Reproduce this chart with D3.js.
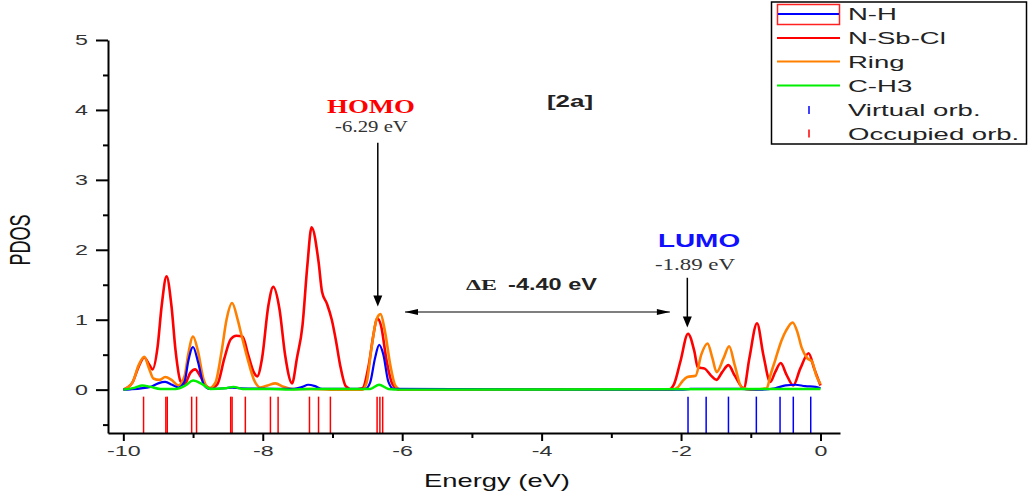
<!DOCTYPE html>
<html><head><meta charset="utf-8">
<script src="https://cdn.jsdelivr.net/npm/d3@7"></script>
<style>body{margin:0;background:#fff;} svg{display:block;}</style>
</head><body>
<svg id="chart" width="1030" height="499"></svg>
<script>
// ---------- data (energy in eV, PDOS) ----------
const seriesNames = ["N-H", "N-Sb-Cl", "Ring", "C-H3"];
const stickNames = ["Virtual orb.", "Occupied orb."];

const nSbClPoints = [
[-10.0,0],[-9.87,0.1],[-9.78,0.33],[-9.70,0.46],[-9.63,0.36],[-9.58,0.29],[-9.51,0.6],[-9.45,1.2],[-9.38,1.62],[-9.31,1.2],[-9.25,0.55],[-9.18,0.12],[-9.12,0.08],[-9.04,0.24],[-8.97,0.29],[-8.90,0.2],[-8.82,0.06],[-8.75,0.02],[-8.65,0.08],[-8.55,0.45],[-8.46,0.72],[-8.38,0.77],[-8.29,0.76],[-8.21,0.5],[-8.13,0.25],[-8.08,0.19],[-8.01,0.45],[-7.92,1.2],[-7.85,1.47],[-7.76,1.15],[-7.68,0.5],[-7.58,0.09],[-7.51,0.45],[-7.43,0.92],[-7.36,1.78],[-7.30,2.32],[-7.20,1.83],[-7.15,1.4],[-7.08,1.23],[-7.01,1.0],[-6.95,0.7],[-6.89,0.35],[-6.81,0.05],[-6.71,0],[-6.57,0.02],[-6.48,0.35],[-6.41,0.8],[-6.36,1.02],[-6.30,0.9],[-6.23,0.45],[-6.14,0.08],[-6.05,0],[-2.18,0],[-2.10,0.08],[-2.01,0.4],[-1.90,0.8],[-1.81,0.55],[-1.76,0.32],[-1.66,0.30],[-1.57,0.2],[-1.49,0.14],[-1.41,0.25],[-1.32,0.35],[-1.23,0.2],[-1.10,0.02],[-1.02,0.45],[-0.91,0.95],[-0.82,0.5],[-0.72,0.11],[-0.65,0.25],[-0.57,0.38],[-0.49,0.22],[-0.39,0.06],[-0.29,0.3],[-0.17,0.52],[-0.09,0.3],[0,0.06]
];
const ringPoints = [
[-10.0,0],[-9.87,0.1],[-9.78,0.35],[-9.70,0.47],[-9.63,0.3],[-9.57,0.16],[-9.48,0.14],[-9.40,0.18],[-9.31,0.14],[-9.21,0.06],[-9.12,0.2],[-9.07,0.5],[-9.00,0.76],[-8.93,0.55],[-8.85,0.15],[-8.77,0.02],[-8.68,0.1],[-8.59,0.55],[-8.52,1.0],[-8.44,1.24],[-8.36,1.0],[-8.31,0.8],[-8.22,0.45],[-8.13,0.15],[-8.03,0.03],[-7.93,0.06],[-7.82,0.09],[-7.70,0.04],[-7.58,0.01],[-7.32,0.01],[-7.03,0],[-6.57,0],[-6.51,0.1],[-6.44,0.6],[-6.37,1.0],[-6.31,1.08],[-6.25,0.85],[-6.17,0.35],[-6.10,0.06],[-6.03,0],[-2.12,0],[-2.05,0.03],[-1.98,0.12],[-1.91,0.18],[-1.79,0.2],[-1.71,0.5],[-1.62,0.66],[-1.55,0.45],[-1.49,0.25],[-1.39,0.45],[-1.31,0.62],[-1.23,0.35],[-1.13,0.03],[-1.00,0],[-0.77,0.02],[-0.72,0.2],[-0.65,0.42],[-0.56,0.7],[-0.49,0.85],[-0.40,0.96],[-0.33,0.82],[-0.27,0.6],[-0.19,0.45],[-0.12,0.4],[-0.06,0.2],[0,0.08]
];
const nhPoints = [
[-10.0,0],[-9.9,0.005],[-9.61,0.04],[-9.50,0.09],[-9.40,0.11],[-9.30,0.07],[-9.21,0.03],[-9.12,0.12],[-9.07,0.4],[-9.00,0.61],[-8.93,0.4],[-8.85,0.08],[-8.77,0.01],[-8.54,0.02],[-8.44,0.03],[-8.32,0.02],[-7.55,0.01],[-7.43,0.04],[-7.35,0.07],[-7.25,0.05],[-7.15,0.01],[-6.53,0.01],[-6.46,0.1],[-6.39,0.45],[-6.33,0.64],[-6.27,0.5],[-6.20,0.12],[-6.12,0.01],[-2.0,0],[-1.86,0.01],[-1.14,0.01],[-0.86,0],[-0.65,0.02],[-0.50,0.06],[-0.36,0.07],[-0.22,0.05],[-0.07,0.04],[0,0.02]
];
const ch3Points = [
[-10.0,0],[-9.83,0.03],[-9.73,0.06],[-9.61,0.04],[-9.47,0.01],[-9.25,0.01],[-9.11,0.06],[-9.00,0.13],[-8.87,0.08],[-8.75,0.01],[-8.54,0.02],[-8.42,0.04],[-8.29,0.01],[-7.9,0.01],[-7.61,0],[-7.32,0.01],[-6.46,0.01],[-6.33,0.07],[-6.20,0.01],[-6.03,0],[0,0.01]
];
const occupiedOrbitals = [-9.71,-9.39,-9.37,-9.02,-8.95,-8.46,-8.44,-8.25,-7.89,-7.78,-7.33,-7.20,-7.03,-6.36,-6.32,-6.28];
const virtualOrbitals = [-1.90,-1.64,-1.32,-0.92,-0.58,-0.39,-0.14];

const xTicksMajor = [-10,-8,-6,-4,-2,0];
const xTicksMinor = [-9,-7,-5,-3,-1];
const yTicksMajor = [0,1,2,3,4,5];
const yTicksMinor = [-0.5,0.5,1.5,2.5,3.5,4.5];

const homoLabel = "HOMO", homoValueLabel = "-6.29 eV";
const lumoLabel = "LUMO", lumoValueLabel = "-1.89 eV";
const gapLabel = "-4.40 eV";
const panelLabel = "[2a]";

// ---------- drawing ----------
const svg = d3.select("#chart");
const x = d3.scaleLinear().domain([-10.22, 0.28]).range([108, 840]);
const y = d3.scaleLinear().domain([-0.62, 5]).range([433, 40]);
const SANS = "Liberation Sans, Arial, sans-serif";
const SERIF = "Liberation Serif, Times New Roman, serif";

function stretch(sel, sx) {
  sel.each(function () {
    const t = d3.select(this);
    const tx = +t.attr("x") || 0, ty = +t.attr("y") || 0;
    t.attr("x", 0).attr("y", 0).attr("transform", `translate(${tx},${ty}) scale(${sx},1)`);
  });
}
function addText(txt, px, py, opts) {
  const t = svg.append("text").text(txt)
    .attr("x", px).attr("y", py)
    .attr("font-family", opts.family || SANS)
    .attr("font-size", opts.size)
    .attr("font-weight", opts.weight || "normal")
    .attr("fill", opts.fill || "#222")
    .attr("text-anchor", opts.anchor || "start");
  stretch(t, opts.sx || 1);
  return t;
}

// sticks
const stickTop = -0.1, stickBottom = -0.62;
svg.append("g").selectAll("line").data(occupiedOrbitals).join("line")
  .attr("x1", d => x(d)).attr("x2", d => x(d))
  .attr("y1", y(stickTop)).attr("y2", y(stickBottom))
  .attr("stroke", "#ff0000").attr("stroke-width", 1.5);
svg.append("g").selectAll("line").data(virtualOrbitals).join("line")
  .attr("x1", d => x(d)).attr("x2", d => x(d))
  .attr("y1", y(stickTop)).attr("y2", y(stickBottom))
  .attr("stroke", "#0000ff").attr("stroke-width", 1.5);

// curves
const line = d3.line().x(d => x(d[0])).y(d => y(d[1])).curve(d3.curveMonotoneX);
const curves = [
  {pts: nSbClPoints, color: "#ff0000", w: 2.6},
  {pts: ringPoints, color: "#ff8000", w: 2.6},
  {pts: nhPoints, color: "#0000ff", w: 2.2},
  {pts: ch3Points, color: "#00ee00", w: 2.4}
];
curves.forEach(c => {
  svg.append("path").datum(c.pts).attr("d", line)
    .attr("fill", "none").attr("stroke", c.color).attr("stroke-width", c.w)
    .attr("stroke-linejoin", "round");
});

// axes
const gx = svg.append("g").attr("transform", `translate(0,${y(-0.62)})`);
gx.call(d3.axisBottom(x).tickValues(xTicksMajor).tickSize(8).tickSizeOuter(0).tickPadding(4)
  .tickFormat(d => d));
const gxm = svg.append("g").attr("transform", `translate(0,${y(-0.62)})`);
gxm.call(d3.axisBottom(x).tickValues(xTicksMinor).tickSize(5).tickSizeOuter(0).tickFormat(""));
gxm.select(".domain").remove();

const gy = svg.append("g").attr("transform", `translate(${x(-10.22)},0)`);
gy.call(d3.axisLeft(y).tickValues(yTicksMajor).tickSize(12).tickSizeOuter(0).tickPadding(8)
  .tickFormat(d => d));
const gym = svg.append("g").attr("transform", `translate(${x(-10.22)},0)`);
gym.call(d3.axisLeft(y).tickValues(yTicksMinor).tickSize(5).tickSizeOuter(0).tickFormat(""));
gym.select(".domain").remove();

[gx, gxm, gy, gym].forEach(g => {
  g.selectAll(".domain, line").attr("stroke", "#000").attr("stroke-width", 2);
  g.selectAll("text").attr("font-family", SANS).attr("font-size", 15).attr("fill", "#333");
});
stretch(gx.selectAll("text"), 1.55);
stretch(gy.selectAll("text"), 1.55);

// axis titles
addText("Energy (eV)", 497, 487, {size: 18, sx: 1.52, anchor: "middle", fill: "#111"});
svg.append("text").text("PDOS")
  .attr("font-family", SANS).attr("font-size", 18).attr("fill", "#111")
  .attr("text-anchor", "middle")
  .attr("transform", "translate(30,240) scale(1.6,1) rotate(-90)");

// annotations
function arrowHead(px, py, dir) {
  // dir: 'down','left','right'
  let p;
  if (dir === "down") p = [[px, py], [px - 4.5, py - 11], [px + 4.5, py - 11]];
  if (dir === "left") p = [[px, py], [px + 13, py - 3], [px + 13, py + 3]];
  if (dir === "right") p = [[px, py], [px - 13, py - 3], [px - 13, py + 3]];
  svg.append("path").attr("d", d3.line()(p) + "Z").attr("fill", "#000");
}
// HOMO arrow
const homoE = -6.35, lumoE = -1.91;
svg.append("line").attr("x1", x(homoE)).attr("x2", x(homoE))
  .attr("y1", y(3.53)).attr("y2", y(1.3)).attr("stroke", "#000").attr("stroke-width", 1.5);
arrowHead(x(homoE), y(1.19), "down");
// LUMO arrow
svg.append("line").attr("x1", x(lumoE)).attr("x2", x(lumoE))
  .attr("y1", y(1.6)).attr("y2", y(1.0)).attr("stroke", "#000").attr("stroke-width", 1.5);
arrowHead(x(lumoE), y(0.89), "down");
// gap arrow
svg.append("line").attr("x1", x(-5.96)).attr("x2", x(-2.16))
  .attr("y1", y(1.11)).attr("y2", y(1.11)).attr("stroke", "#000").attr("stroke-width", 1.2);
arrowHead(x(-5.96), y(1.11), "left");
arrowHead(x(-2.16), y(1.11), "right");

addText(homoLabel, 371, 113, {family: SERIF, size: 19, weight: "bold", fill: "#ff0000", sx: 1.41, anchor: "middle"});
addText(homoValueLabel, 371.5, 131.5, {family: SERIF, size: 16, fill: "#333", sx: 1.3, anchor: "middle"});
addText(panelLabel, 570, 107, {size: 16, weight: "bold", fill: "#222", sx: 1.62, anchor: "middle"});
addText(lumoLabel, 699, 247, {size: 19, weight: "bold", fill: "#1010ff", sx: 1.47, anchor: "middle"});
addText(lumoValueLabel, 695, 270, {family: SERIF, size: 16, fill: "#333", sx: 1.43, anchor: "middle"});
addText("\u0394E", 481.5, 290, {family: SERIF, size: 15, weight: "bold", fill: "#222", sx: 1.6, anchor: "middle"});
addText(gapLabel, 552.5, 290, {size: 16, weight: "bold", fill: "#222", sx: 1.47, anchor: "middle"});

// legend
const lg = svg.append("g");
lg.append("rect").attr("x", 771.5).attr("y", 2).attr("width", 255).attr("height", 142)
  .attr("fill", "#fff").attr("stroke", "#000").attr("stroke-width", 1.5);
const rowY = [14, 38, 61.5, 85.5, 110, 133.5];
// N-H sample
lg.append("rect").attr("x", 777.5).attr("y", 4.5).attr("width", 62).attr("height", 20)
  .attr("fill", "none").attr("stroke", "#ff2020").attr("stroke-width", 1.5);
lg.append("line").attr("x1", 778).attr("x2", 839).attr("y1", rowY[0]).attr("y2", rowY[0])
  .attr("stroke", "#0000ff").attr("stroke-width", 2);
[["#ff0000", 1], ["#ff8000", 2], ["#00ee00", 3]].forEach(([c, i]) => {
  lg.append("line").attr("x1", 777).attr("x2", 840).attr("y1", rowY[i]).attr("y2", rowY[i])
    .attr("stroke", c).attr("stroke-width", 2);
});
lg.append("line").attr("x1", 809).attr("x2", 809).attr("y1", rowY[4] - 4).attr("y2", rowY[4] + 4)
  .attr("stroke", "#0000ff").attr("stroke-width", 1.5);
lg.append("line").attr("x1", 809).attr("x2", 809).attr("y1", rowY[5] - 4).attr("y2", rowY[5] + 4)
  .attr("stroke", "#ff0000").attr("stroke-width", 1.5);
const legendLabels = seriesNames.concat(stickNames);
legendLabels.forEach((lab, i) => {
  addText(lab, 848, rowY[i] + 6, {size: 16, fill: "#222", sx: 1.72});
});
</script>
</body></html>
